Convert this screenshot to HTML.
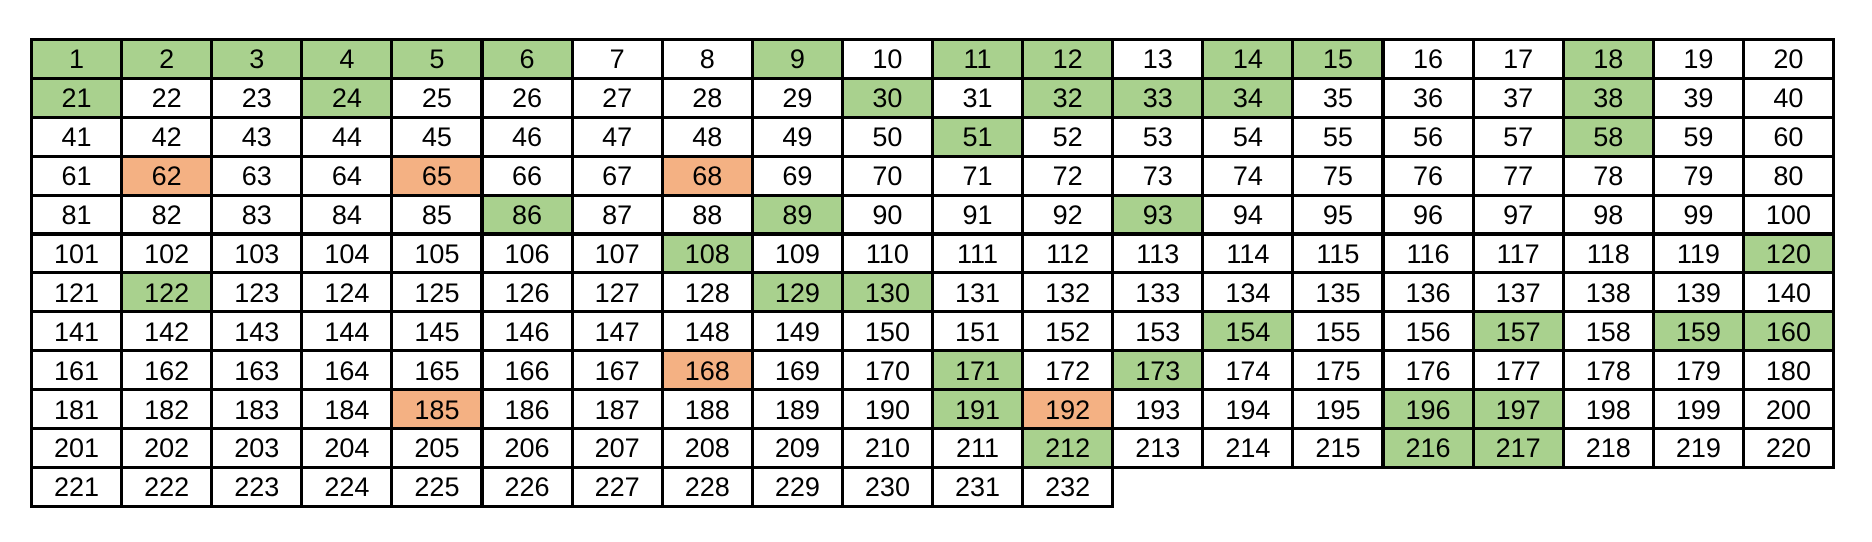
<!DOCTYPE html>
<html><head><meta charset="utf-8"><style>
body{margin:0;width:1872px;height:542px;background:#fff;position:relative;overflow:hidden;font-family:"Liberation Sans",sans-serif}
.c{position:absolute;box-sizing:border-box;border:3px solid #000;text-align:center;font-size:27px;color:#000;display:flex;align-items:center;justify-content:center;padding-top:2px}
</style></head><body>
<div id="grid"></div>
<script>
const total = 232;
const cols = 20;
const greens = [1,2,3,4,5,6,9,11,12,14,15,18,21,24,30,32,33,34,38,51,58,86,89,93,108,120,122,129,130,154,157,159,160,171,173,191,196,197,212,216,217];
const oranges = [62,65,68,168,185,192];
const g = document.getElementById('grid');
const x0 = 30, y0 = 38, cw = 90.1, rh = 38.9;
for (let n = 1; n <= total; n++) {
  const i = n - 1, r = Math.floor(i / cols), c = i % cols;
  const d = document.createElement('div');
  d.className = 'c';
  
  
  d.style.left = (x0 + c * cw) + 'px';
  d.style.top = (y0 + r * rh) + 'px';
  d.style.width = (cw + 3) + 'px';
  d.style.height = (rh + 3) + 'px';
  d.style.background = greens.includes(n) ? '#a9d18e' : oranges.includes(n) ? '#f4b183' : '#fff';
  d.textContent = n;
  g.appendChild(d);
}
</script>
</body></html>
